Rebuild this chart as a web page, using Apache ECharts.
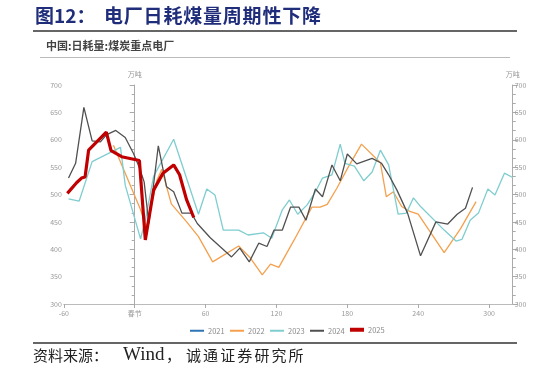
<!DOCTYPE html>
<html><head><meta charset="utf-8">
<script src="https://cdn.jsdelivr.net/npm/echarts@6/dist/echarts.min.js"></script>
<style>html,body{margin:0;padding:0;background:#fff}#c{width:547px;height:374px}</style>
</head><body><div id="c"></div>
<script>
// Data: [day offset from Spring Festival, 万吨]
const years = ['2021', '2022', '2023', '2024', '2025'];
const s2021 = [];
const s2022 = [[-18,590],[-8,539],[5,472],[10,440],[19,527],[23,546],[31,483],[44,450],[54,423],[66,377],[88,406],[98,384],[108,353],[115,373],[122,367],[135,417],[150,477],[157,477],[163,482],[171,511],[181,551],[192,592],[208,558],[213,496],[219,505],[226,478],[233,469],[240,464],[262,394],[276,438],[289,487]];
const s2023 = [[-56,492],[-47,488],[-36,560],[-12,586],[-8,517],[5,419],[9,453],[16,533],[33,601],[54,464],[61,510],[68,499],[75,435],[88,435],[96,426],[109,430],[116,420],[125,472],[131,490],[138,464],[146,481],[153,505],[159,530],[167,536],[174,592],[178,557],[186,552],[194,525],[201,541],[208,581],[215,554],[223,464],[230,466],[236,494],[242,478],[262,435],[272,415],[277,418],[284,453],[291,466],[299,510],[305,499],[313,539],[320,531]];
const s2024 = [[-56,530],[-50,557],[-43,659],[-36,598],[-29,596],[-24,609],[-16,617],[-8,604],[-1,575],[4,549],[8,523],[12,447],[20,589],[27,514],[33,505],[40,466],[48,466],[53,447],[64,421],[82,386],[89,402],[97,377],[105,411],[112,405],[118,435],[125,435],[132,477],[139,477],[145,453],[153,510],[159,496],[167,554],[174,525],[180,574],[188,556],[201,566],[209,557],[215,536],[222,508],[231,466],[242,388],[255,450],[265,446],[273,464],[280,475],[286,513]];
const s2025 = [[-57,502],[-49,522],[-45,530],[-42,532],[-39,581],[-24,614],[-20,580],[-11,569],[4,562],[9,417],[16,508],[24,539],[33,554],[38,536],[44,490],[50,458]];
const xMin = -60, xMax = 320, xStep = 60;
const yMin = 300, yMax = 700, yStep = 50;
const titleHead = '图12：';
const titleText = '电厂日耗煤量周期性下降';
const subTitle = '中国:日耗量:煤炭重点电厂';
const unit = '万吨';
const springLabel = '春节';

const colors = ['#2f75b5', '#f4a04e', '#7fcdcf', '#505050', '#c00000'];
const widths = [1.3, 1.3, 1.3, 1.3, 3.2];
const legendIconH = [2, 2, 2, 2, 4];
const seriesData = [s2021, s2022, s2023, s2024, s2025];

const graphic = [];
graphic.push({type:'text', left:35, top:6, style:{text:titleHead, fontSize:19, fontWeight:'bold', fill:'#1f2d7b', fontFamily:'Noto Sans CJK SC'}});
for (let i = 0; i < titleText.length; i++) {
  graphic.push({type:'text', left:104 + i*19.8, top:6, style:{text:titleText[i], fontSize:19, fontWeight:'bold', fill:'#1f2d7b', fontFamily:'Noto Sans CJK SC'}});
}
graphic.push({type:'line', shape:{x1:33, y1:31, x2:517, y2:31}, style:{stroke:'#333', lineWidth:1.5}});
graphic.push({type:'text', left:46, top:40, style:{text:subTitle, fontSize:11, fontWeight:'bold', fill:'#444', fontFamily:'Noto Sans CJK SC'}});
graphic.push({type:'line', shape:{x1:40, y1:57.5, x2:510, y2:57.5}, style:{stroke:'#bbb', lineWidth:1}});
graphic.push({type:'line', shape:{x1:33, y1:343, x2:517, y2:343}, style:{stroke:'#333', lineWidth:1.5}});
const src1 = '资料来源：';
for (let i = 0; i < src1.length; i++) {
  graphic.push({type:'text', left:33 + i*15, top:348, style:{text:src1[i], fontSize:15, fill:'#222', fontFamily:'Noto Sans CJK SC'}});
}
graphic.push({type:'text', left:123, top:346, style:{text:'Wind', fontSize:19, fill:'#222', fontFamily:'Liberation Serif'}});
graphic.push({type:'text', left:166, top:348, style:{text:'，', fontSize:15, fill:'#222', fontFamily:'Noto Sans CJK SC'}});
const src2 = '诚通证券研究所';
for (let i = 0; i < src2.length; i++) {
  graphic.push({type:'text', left:186 + i*17.1, top:348, style:{text:src2[i], fontSize:15, fill:'#222', fontFamily:'Noto Sans CJK SC'}});
}

const axisLabelStyle = {color:'#999', fontSize:7, fontFamily:'Noto Sans CJK SC'};
const yAxisCommon = {
  type:'value', min:yMin, max:yMax, interval:yStep,
  name:unit, nameGap:7, nameTextStyle:{color:'#999', fontSize:7, fontFamily:'Noto Sans CJK SC'},
  axisLine:{show:true, lineStyle:{color:'#aaa', width:1}},
  axisTick:{show:true, length:5, lineStyle:{color:'#aaa'}},
  minorTick:{show:true, splitNumber:3, length:3, lineStyle:{color:'#aaa'}},
  splitLine:{show:false},
  axisLabel:Object.assign({margin:2}, axisLabelStyle)
};
const legendText = {color:'#888', fontSize:7.5, fontFamily:'Noto Sans CJK SC'};

const option = {
  animation:false,
  backgroundColor:'#fff',
  graphic: graphic,
  grid:{left:63.8, right:34.3, top:85, bottom:70, containLabel:false},
  legend: years.map(function(y, i){
    return {left:190 + i*40, top:330 - legendIconH[i]/2 - 2, icon:'rect', itemWidth:14, itemHeight:legendIconH[i], itemGap:0, padding:0,
      textStyle:Object.assign({padding:[0,0,0,-1]}, legendText), data:[y]};
  }),
  xAxis:{
    type:'value', min:xMin, max:xMax, interval:xStep,
    axisLine:{lineStyle:{color:'#bbb'}},
    axisTick:{show:true, length:4, lineStyle:{color:'#aaa'}},
    splitLine:{show:false},
    axisLabel:Object.assign({margin:6, showMaxLabel:false, formatter:function(v){ if (v===0) return springLabel; return (v % xStep === 0) ? String(v) : ''; }}, axisLabelStyle)
  },
  yAxis:[
    Object.assign({position:'left'}, yAxisCommon),
    Object.assign({position:'right'}, yAxisCommon)
  ],
  series: years.map(function(y, i){
    return {
      name:y, type:'line', yAxisIndex:0, data:seriesData[i],
      symbol:'none', showSymbol:false,
      itemStyle:{color:colors[i]},
      lineStyle:{color:colors[i], width:widths[i]},
      z: 2 + i
    };
  })
};
const chart = echarts.init(document.getElementById('c'), null, {renderer:'canvas'});
chart.setOption(option);
</script></body></html>
